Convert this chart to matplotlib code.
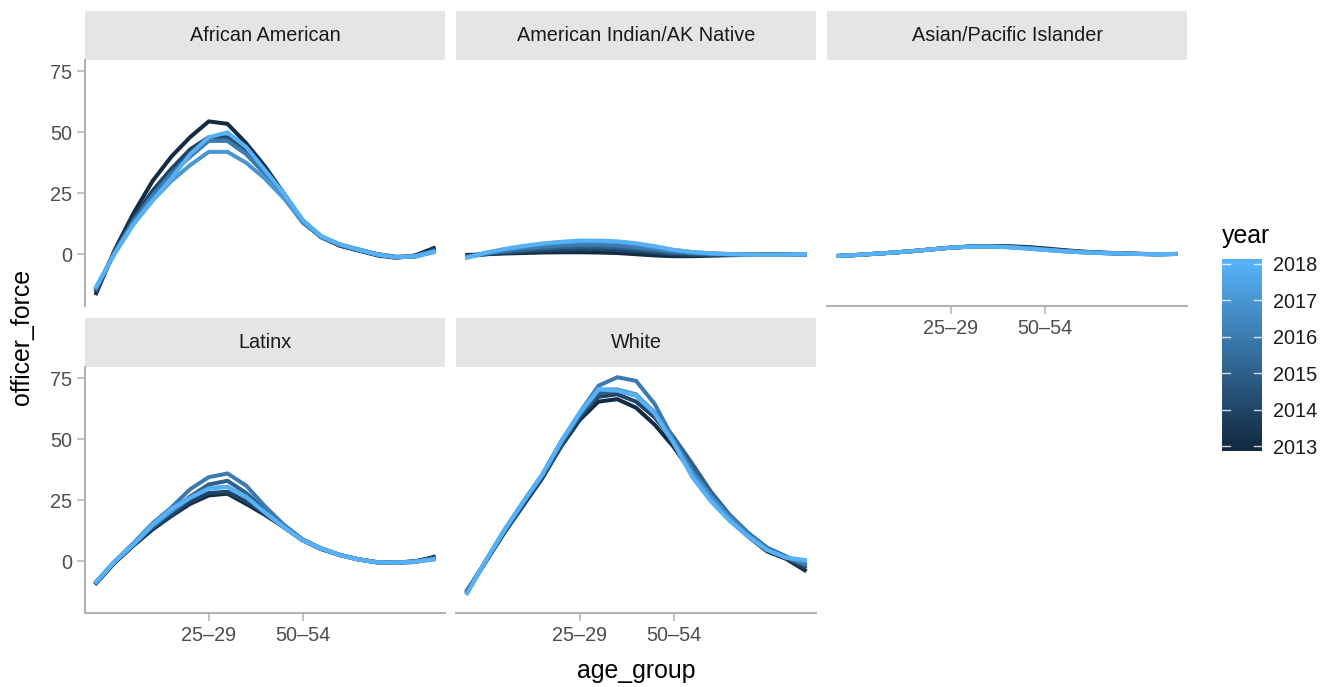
import numpy as np
import matplotlib
matplotlib.use('Agg')
import matplotlib.pyplot as plt
from matplotlib.colors import LinearSegmentedColormap, Normalize

plt.rcParams['font.family'] = 'Liberation Sans'

# age groups are plotted by their position, only two of them get a label
years = [2013, 2014, 2015, 2016, 2017, 2018]
age_pos = np.arange(1, 20)
tick_pos = [7, 12]
tick_labels = ['25–29', '50–54']
y_ticks = [0, 25, 50, 75]

# one row per year (2013 .. 2018), one value per age group
african_american = [
    [-16, 2, 17, 30, 40, 48, 54.5, 53.5, 45.5, 36, 25, 14, 7, 3.5, 1.5, -0.5, -1.5, -0.5, 2.5],
    [-15, 1.5, 15, 26, 35, 43, 48, 48, 42, 34, 24, 13.5, 7, 3.5, 1.5, -0.3, -1.2, -0.8, 1.8],
    [-14, 1, 14, 24, 33, 41, 47, 47, 41.5, 33, 23.5, 13.5, 7, 3.8, 1.8, 0, -1.2, -1, 1.5],
    [-14, 1, 13.5, 24, 33, 40, 46.5, 46.5, 41, 33, 23.5, 13, 7, 4, 2, 0, -1, -0.8, 1.2],
    [-13.5, 0.5, 12.5, 22, 30, 36.5, 42, 42, 37.5, 31, 23, 13.5, 7.2, 4, 1.8, 0, -1.2, -1, 0.8],
    [-13.3, 0.5, 12.5, 22, 31, 41, 48, 50, 44, 34.5, 25, 14.2, 7.5, 4, 1.8, -0.2, -1.3, -0.8, 1],
]
american_indian = [
    [-0.3, 0, 0.3, 0.5, 0.7, 0.8, 0.8, 0.7, 0.5, 0, -0.5, -0.8, -0.8, -0.6, -0.4, -0.3, -0.2, -0.1, 0],
    [-0.8, 0, 0.6, 1.1, 1.5, 1.8, 2, 2, 1.7, 1.2, 0.6, 0, -0.3, -0.3, -0.2, -0.2, -0.1, 0, 0],
    [-1, 0.2, 1, 1.7, 2.3, 2.8, 3.1, 3.1, 2.8, 2.2, 1.4, 0.6, 0.2, 0, -0.1, -0.1, 0, 0, 0],
    [-1, 0.4, 1.5, 2.4, 3.1, 3.6, 3.9, 3.9, 3.6, 2.9, 2, 1.1, 0.5, 0.2, 0, -0.1, -0.1, 0, 0],
    [-1.2, 0.6, 2, 3.2, 4.2, 4.9, 5.3, 5.3, 5, 4.2, 3, 1.7, 0.9, 0.4, 0.1, -0.1, -0.2, -0.1, 0],
    [-1.5, 0.6, 2.2, 3.4, 4.4, 5.1, 5.6, 5.6, 5.3, 4.5, 3.3, 1.8, 0.9, 0.3, 0, -0.2, -0.3, -0.2, 0.1],
]
asian_pacific = [
    [-0.7, -0.3, 0.2, 0.7, 1.3, 2.0, 2.7, 3.1, 3.3, 3.3, 3.0, 2.4, 1.7, 1.1, 0.7, 0.4, 0.2, 0, 0.1],
    [-0.7, -0.3, 0.2, 0.7, 1.3, 2.0, 2.7, 3.1, 3.2, 3.1, 2.8, 2.2, 1.5, 1.0, 0.6, 0.3, 0.1, 0, 0.1],
    [-0.7, -0.3, 0.2, 0.7, 1.3, 2.0, 2.7, 3.1, 3.2, 3.0, 2.6, 2.0, 1.4, 0.9, 0.5, 0.3, 0.1, 0, 0.1],
    [-0.7, -0.3, 0.2, 0.7, 1.3, 2.0, 2.7, 3.1, 3.2, 3.0, 2.5, 1.9, 1.3, 0.8, 0.5, 0.3, 0.1, 0, 0.1],
    [-0.7, -0.3, 0.2, 0.7, 1.3, 2.0, 2.7, 3.1, 3.1, 2.9, 2.4, 1.8, 1.2, 0.8, 0.5, 0.3, 0.1, 0, 0.1],
    [-0.7, -0.3, 0.2, 0.7, 1.3, 2.0, 2.7, 3.0, 3.1, 2.9, 2.4, 1.8, 1.2, 0.8, 0.5, 0.3, 0.1, 0, 0.1],
]
latinx = [
    [-9, -0.5, 6.5, 13, 18.5, 23.5, 27, 27.7, 23.5, 19, 14, 8.6, 5, 2.5, 0.7, -0.5, -0.7, -0.3, 1.8],
    [-8.8, -0.3, 6.8, 13.5, 19, 24.5, 28, 28.5, 24.5, 19.5, 14, 8.6, 5, 2.5, 0.7, -0.5, -0.6, 0, 1.5],
    [-8.5, 0, 7, 14.5, 20.5, 26.5, 31.5, 33, 28, 21, 14.5, 8.8, 5.2, 2.5, 0.8, -0.4, -0.6, 0, 1.2],
    [-8.5, 0, 7.5, 15.5, 22, 29.5, 34.5, 36, 31, 22.5, 15, 9, 5.3, 2.6, 0.8, -0.4, -0.6, -0.1, 1],
    [-8.5, 0, 7, 14.5, 20.5, 26, 30, 30.5, 26.5, 20, 14, 8.6, 5.2, 2.5, 0.7, -0.5, -0.6, -0.2, 0.8],
    [-8.5, 0, 7, 15, 21.5, 26, 29.8, 30.5, 26.3, 20, 14, 8.6, 5.2, 2.5, 0.7, -0.5, -0.6, -0.2, 0.7],
]
white = [
    [-12, 0, 12, 23, 34, 47, 58, 65.5, 66.5, 63, 56, 47, 36, 25, 17, 10, 4, 1, -3.7],
    [-12, 0, 12, 23.5, 34.5, 47.5, 59, 67.5, 68.5, 65.5, 59, 49.5, 38.5, 27.5, 18, 11, 5, 1.5, -2.5],
    [-12.5, 0, 12.5, 24, 35, 48, 60, 69, 70, 68, 61, 51, 40, 28.5, 19, 11.5, 5.5, 2, -1.5],
    [-12.5, 0.3, 13, 24.5, 35.5, 49, 61, 72, 75.5, 74, 64.5, 50, 37, 27, 18.5, 11, 5, 1.5, -1.2],
    [-12.8, 0.3, 13, 24.5, 35.5, 49, 60.5, 70.5, 70.5, 68.5, 61, 49, 36, 26, 17.5, 10.5, 4.8, 1.5, 0],
    [-13.2, 0.5, 13, 24.5, 35.5, 49, 61, 70.5, 70, 68, 60.5, 48.5, 34.5, 24.5, 16.5, 10, 4.5, 1.5, 0.5],
]

facet_names = ['African American', 'American Indian/AK Native', 'Asian/Pacific Islander',
               'Latinx', 'White']
facet_values = [african_american, american_indian, asian_pacific, latinx, white]

W, H = 1332, 687
fig = plt.figure(figsize=(W / 100, H / 100), dpi=100)


def px_axes(x0, y0, x1, y1):
    return fig.add_axes([x0 / W, 1 - y1 / H, (x1 - x0) / W, (y1 - y0) / H])


cmap = LinearSegmentedColormap.from_list('year', ['#132B43', '#56B1F7'])
norm = Normalize(2013, 2018)

cols = [(85, 445), (456, 816), (827, 1187)]
rows = [(11, 60, 306), (318, 367, 613)]
axis_grey = '#B3B3B3'
fs = 14.3

for k, (name, vals) in enumerate(zip(facet_names, facet_values)):
    r, c = divmod(k, 3)
    x0, x1 = cols[c]
    s0, p0, p1 = rows[r]

    strip = px_axes(x0, s0, x1, p0)
    strip.set_facecolor('#E5E5E5')
    strip.set_xticks([])
    strip.set_yticks([])
    for sp in strip.spines.values():
        sp.set_visible(False)
    strip.text(0.5, 0.5, name, ha='center', va='center', fontsize=fs,
               color='#1A1A1A', transform=strip.transAxes)

    ax = px_axes(x0, p0, x1, p1)
    for yr, v in zip(years, vals):
        ax.plot(age_pos, v, color=cmap(norm(yr)), lw=2.9, solid_joinstyle='miter')
    ax.set_xlim(0.4, 19.6)
    ax.set_ylim(-21.25, 79.7)
    for sp in ax.spines.values():
        sp.set_visible(False)

    show_y = c == 0
    show_x = r == 1 or (r == 0 and c == 2)
    ax.tick_params(colors=axis_grey, labelcolor='#4D4D4D', labelsize=fs,
                   length=6, width=1.1, pad=3.5)
    if show_y:
        ax.spines['left'].set_visible(True)
        ax.spines['left'].set_color(axis_grey)
        ax.spines['left'].set_linewidth(1.5)
        ax.set_yticks(y_ticks)
    else:
        ax.set_yticks([])
    if show_x:
        ax.spines['bottom'].set_visible(True)
        ax.spines['bottom'].set_color(axis_grey)
        ax.spines['bottom'].set_linewidth(1.5)
        ax.set_xticks(tick_pos)
        ax.set_xticklabels(tick_labels)
    else:
        ax.set_xticks([])

fig.text(636 / W, 1 - 671 / H, 'age_group', ha='center', va='center', fontsize=17.9)
fig.text(22 / W, 1 - 337 / H, 'officer_force', ha='center', va='center',
         rotation=90, fontsize=17.9)

# colour bar legend
fig.text(1222 / W, 1 - 243 / H, 'year', ha='left', va='baseline', fontsize=17.9)
cb = px_axes(1222, 259, 1262, 451)
lo, hi = years[0] - 0.13, years[-1] + 0.13
grad = np.linspace(lo, hi, 200).reshape(-1, 1)
cb.imshow(grad, cmap=cmap, norm=norm, aspect='auto', origin='lower',
          extent=[0, 1, lo, hi])
cb.set_xlim(0, 1)
cb.set_ylim(lo, hi)
for yr in years:
    cb.plot([0, 0.2], [yr, yr], color='white', lw=1, alpha=0.8)
    cb.plot([0.8, 1], [yr, yr], color='white', lw=1, alpha=0.8)
for sp in cb.spines.values():
    sp.set_visible(False)
cb.set_xticks([])
cb.yaxis.tick_right()
cb.set_yticks(years)
cb.set_yticklabels([str(y) for y in years])
cb.tick_params(axis='y', length=0, pad=8, labelsize=fs, labelcolor='#1A1A1A')

fig.savefig('out.png', dpi=100)
